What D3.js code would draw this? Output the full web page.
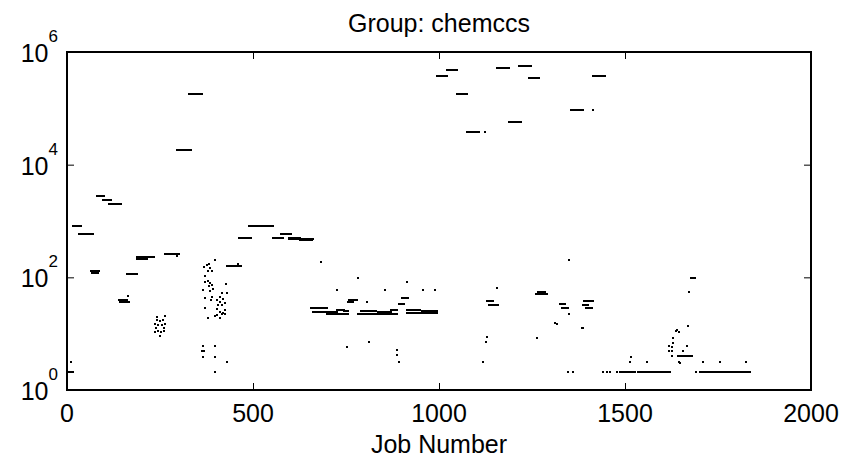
<!DOCTYPE html>
<html lang="en">
    <head>
        <meta charset="utf-8">
        <title>Group: chemccs</title>
        <script src="https://d3js.org/d3.v7.min.js"></script>
        <style type="text/css">
body {
    margin: 0;
    background: #ffffff;
}
text {
    font-family: "Liberation Sans", Arial, sans-serif;
    fill: #000000;
}
.axis path, .axis line {
    stroke: #000000;
}
        </style>
    </head>
    <body>
    <script type="text/javascript">
    //1. Data
    const xTicks = [0, 500, 1000, 1500, 2000];
    const yTicks = [1, 100, 10000, 1000000];
    const yTickPowers = ["0", "2", "4", "6"];

    // runs of consecutive jobs that share one value
    const runStart = [3, 16, 32, 64, 66, 80, 96, 113, 140, 142, 161, 188, 188, 263, 296, 328,
        430, 462, 489, 553, 575, 596, 598, 626,
        655, 660, 700, 725, 745, 756, 758, 783, 790, 835, 870, 893, 900, 913, 915, 955,
        995, 1021, 1048, 1075, 1128, 1135, 1156, 1188, 1215, 1242, 1262, 1265,
        1325, 1330, 1355, 1387, 1390, 1395, 1414,
        1491, 1536, 1567, 1643, 1677, 1702, 1745];
    const runEnd = [15, 38, 70, 86, 84, 99, 118, 145, 162, 166, 188, 234, 215, 301, 333, 363,
        467, 494, 553, 580, 602, 626, 661, 658,
        700, 725, 756, 745, 756, 770, 780, 886, 830, 870, 886, 905, 917, 994, 950, 994,
        1021, 1048, 1075, 1107, 1145, 1159, 1188, 1220, 1247, 1269, 1289, 1285,
        1340, 1347, 1387, 1400, 1415, 1410, 1446,
        1527, 1563, 1621, 1679, 1688, 1742, 1836];
    const runValue = [2.1, 800, 580, 127, 118, 2750, 2350, 2000, 40, 36, 115, 225, 210, 258, 18200, 178000,
        160, 500, 815, 500, 590, 500, 478, 452,
        28, 24, 22, 26, 25, 37, 40, 22, 25, 24, 26, 34, 43, 23, 26, 25,
        370000, 480000, 178000, 38000, 38, 32, 525000, 57200, 565000, 346000, 50, 54,
        34, 28, 93500, 32, 38, 29, 375000,
        2.1, 2.1, 2.1, 3.95, 97, 2.1, 2.1];

    // single jobs
    const pointJob = [11, 163, 296, 459,
        242, 250, 258, 237, 245, 255, 263, 239, 261, 237, 245, 253, 261, 250, 243, 263,
        398, 368, 376, 382, 384, 390, 379, 371, 371, 379, 384, 390, 382, 366, 384, 392,
        427, 430, 417, 411, 390, 387, 371, 403, 411, 419, 425, 406, 417, 403, 411, 425,
        417, 398, 411, 425, 371, 379, 402, 420,
        366, 398, 363, 367, 366, 398, 430, 398,
        683, 781, 727, 856, 915, 958, 990, 1157, 1350, 806,
        753, 813, 888, 888, 893, 1130, 1126, 1119, 1264, 1312, 1316, 1350, 1124, 1414,
        1384, 1388, 1347, 1361, 1442, 1451, 1460, 1479, 1486, 1691,
        1516, 1513, 1558, 1646, 1670, 1709, 1755, 1824,
        1636, 1640, 1645, 1630, 1630, 1617, 1625, 1666, 1618, 1625, 1657, 1626, 1648, 1673];
    const pointValue = [3.1, 47, 240, 170,
        17.5, 16.8, 17.5, 14.8, 14.3, 14.3, 14.8, 12.6, 12.6, 10.7, 11.2, 10.7, 11.2, 9.1, 19.8, 20.6,
        203, 153, 166, 173, 147, 130, 130, 106, 83, 86, 79, 73, 70, 60, 57, 62,
        76, 53, 53, 45, 45, 40, 43, 40, 36.5, 41, 35, 32, 32, 27.4, 24.3, 26.3,
        22.3, 20.6, 19, 22.3, 28.6, 19, 21.4, 23.3,
        6.0, 6.0, 4.9, 4.9, 3.9, 3.9, 3.1, 2.1,
        185, 96, 59, 59, 82, 59, 59, 64, 200, 36,
        5.9, 7.0, 5.1, 4.2, 3.1, 8.8, 7.2, 3.1, 8.3, 15.5, 15, 22.2, 38000, 93500,
        12.4, 12.4, 2.1, 2.1, 2.1, 2.1, 2.1, 2.1, 2.1, 2.1,
        3.9, 3.1, 3.1, 3.1, 13.7, 3.1, 3.1, 3.1,
        11.0, 11.6, 10.8, 8.3, 6.9, 6.0, 5.7, 6.0, 5.0, 5.0, 5.0, 4.0, 3.05, 54];

    //2. Constants for the svg
    const svgWidth = 857;
    const svgHeight = 459;
    const plotLeft = 67, plotRight = 811, plotTop = 52, plotBottom = 390;
    const tickLen = 7;

    //3. Scales
    const xScale = d3.scaleLinear()
        .domain([0, 2000])
        .range([plotLeft, plotRight]);

    const yScale = d3.scaleLog()
        .domain([1, 1000000])
        .range([plotBottom, plotTop]);

    //4. The svg
    const svg = d3.select("body")
        .append("svg")
        .attr("width", svgWidth)
        .attr("height", svgHeight);

    //5. Marks
    const runs = runStart.map((s, i) => ({start: s, end: runEnd[i], value: runValue[i]}));
    const points = pointJob.map((j, i) => ({job: j, value: pointValue[i]}));

    svg.append("g")
        .attr("shape-rendering", "crispEdges")
        .selectAll("rect")
        .data(runs)
        .join("rect")
        .attr("x", d => xScale(d.start) - 1)
        .attr("y", d => yScale(d.value) - 1)
        .attr("width", d => xScale(d.end) - xScale(d.start) + 2)
        .attr("height", 2)
        .attr("fill", "#000");

    svg.append("g")
        .attr("shape-rendering", "crispEdges")
        .selectAll("rect")
        .data(points)
        .join("rect")
        .attr("x", d => xScale(d.job) - 1)
        .attr("y", d => yScale(d.value) - 1)
        .attr("width", 2)
        .attr("height", 2)
        .attr("fill", "#000");

    //6. Axes (ticks point inward on all four sides)
    svg.append("g")
        .attr("class", "axis")
        .attr("transform", "translate(0," + plotBottom + ")")
        .call(d3.axisBottom(xScale).tickValues(xTicks).tickSizeInner(-tickLen).tickSizeOuter(0).tickFormat(""));
    svg.append("g")
        .attr("class", "axis")
        .attr("transform", "translate(0," + plotTop + ")")
        .call(d3.axisTop(xScale).tickValues(xTicks).tickSizeInner(-tickLen).tickSizeOuter(0).tickFormat(""));
    svg.append("g")
        .attr("class", "axis")
        .attr("transform", "translate(" + plotLeft + ",0)")
        .call(d3.axisLeft(yScale).tickValues(yTicks).tickSizeInner(-tickLen).tickSizeOuter(0).tickFormat(""));
    svg.append("g")
        .attr("class", "axis")
        .attr("transform", "translate(" + plotRight + ",0)")
        .call(d3.axisRight(yScale).tickValues(yTicks).tickSizeInner(-tickLen).tickSizeOuter(0).tickFormat(""));
    svg.selectAll(".axis path").remove();

    svg.append("rect")
        .attr("x", plotLeft)
        .attr("y", plotTop)
        .attr("width", plotRight - plotLeft)
        .attr("height", plotBottom - plotTop)
        .attr("fill", "none")
        .attr("stroke", "#000")
        .attr("stroke-width", 2);

    //7. Tick labels
    svg.append("g")
        .selectAll("text")
        .data(xTicks)
        .join("text")
        .attr("x", d => xScale(d))
        .attr("y", 422)
        .attr("text-anchor", "middle")
        .attr("font-size", 25)
        .text(d => d);

    const yLabels = svg.append("g")
        .selectAll("text")
        .data(yTicks)
        .join("text")
        .attr("x", 58)
        .attr("y", d => yScale(d) + 10)
        .attr("text-anchor", "end")
        .attr("font-size", 25);
    yLabels.append("tspan").text("10");
    yLabels.append("tspan")
        .attr("dy", -20)
        .attr("font-size", 17)
        .text((d, i) => yTickPowers[i]);

    //8. Title and x label
    svg.append("text")
        .attr("x", (plotLeft + plotRight) / 2)
        .attr("y", 32)
        .attr("text-anchor", "middle")
        .attr("font-size", 25)
        .text("Group: chemccs");

    svg.append("text")
        .attr("x", (plotLeft + plotRight) / 2)
        .attr("y", 453)
        .attr("text-anchor", "middle")
        .attr("font-size", 25)
        .text("Job Number");
    </script>
    </body>
</html>
